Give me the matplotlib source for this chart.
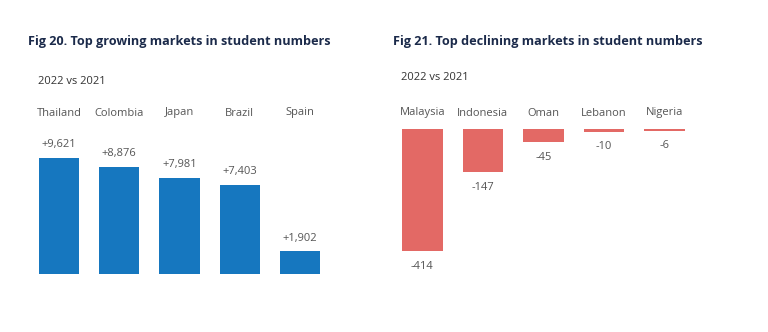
import matplotlib.pyplot as plt
from matplotlib.transforms import blended_transform_factory

# data
grow_labels = ['Thailand', 'Colombia', 'Japan', 'Brazil', 'Spain']
grow_values = [9621, 8876, 7981, 7403, 1902]
decl_labels = ['Malaysia', 'Indonesia', 'Oman', 'Lebanon', 'Nigeria']
decl_values = [-414, -147, -45, -10, -6]

W, H = 768, 332
BLUE = '#1677BF'
RED = '#E36965'
GREY = '#555555'
NAVY = '#1B2A4A'

plt.rcParams['font.family'] = ['Open Sans', 'DejaVu Sans']


def px(x0, y0, x1, y1):
    # pixel box (top-left origin) -> figure fraction rect
    return [x0 / W, 1 - y1 / H, (x1 - x0) / W, (y1 - y0) / H]


def clean(ax):
    for s in ax.spines.values():
        s.set_visible(False)
    ax.set_xticks([])
    ax.set_yticks([])
    ax.patch.set_alpha(0)


fig = plt.figure(figsize=(W / 100, H / 100), dpi=100)

# left panel: growing markets
ax1 = fig.add_axes(px(29, 100, 330, 274))
bars = ax1.bar(range(len(grow_values)), grow_values, width=0.667, color=BLUE)
ax1.set_xlim(-0.5, 4.5)
ax1.set_ylim(0, 14430)
clean(ax1)
for b, v in zip(bars, grow_values):
    ax1.annotate('+{:,}'.format(v), (b.get_x() + b.get_width() / 2, v),
                 xytext=(0, 13), textcoords='offset pixels',
                 ha='center', va='center', fontsize=8, color=GREY)
tr1 = blended_transform_factory(ax1.transData, fig.transFigure)
for i, lab in enumerate(grow_labels):
    ax1.text(i, 1 - 113 / H, lab, transform=tr1, ha='center', va='center',
             fontsize=8, color=GREY)

# right panel: declining markets
ax2 = fig.add_axes(px(392, 129, 695, 290))
bars2 = ax2.bar(range(len(decl_values)), decl_values, width=0.667, color=RED)
ax2.set_xlim(-0.5, 4.5)
ax2.set_ylim(-546, 0)
clean(ax2)
for b, v in zip(bars2, decl_values):
    ax2.annotate(str(v), (b.get_x() + b.get_width() / 2, v),
                 xytext=(0, -15), textcoords='offset pixels',
                 ha='center', va='center', fontsize=8, color=GREY)
tr2 = blended_transform_factory(ax2.transData, fig.transFigure)
for i, lab in enumerate(decl_labels):
    ax2.text(i, 1 - 113 / H, lab, transform=tr2, ha='center', va='center',
             fontsize=8, color=GREY)

# titles
fig.text(28 / W, 1 - 41 / H, 'Fig 20. Top growing markets in student numbers',
         ha='left', va='center', fontsize=9.1, fontweight='bold', color=NAVY)
fig.text(393 / W, 1 - 41 / H, 'Fig 21. Top declining markets in student numbers',
         ha='left', va='center', fontsize=9.1, fontweight='bold', color=NAVY)
fig.text(38 / W, 1 - 81 / H, '2022 vs 2021', ha='left', va='center',
         fontsize=8, color='#333333')
fig.text(401 / W, 1 - 78 / H, '2022 vs 2021', ha='left', va='center',
         fontsize=8, color='#333333')

fig.savefig('out.png', dpi=100, facecolor='white')
